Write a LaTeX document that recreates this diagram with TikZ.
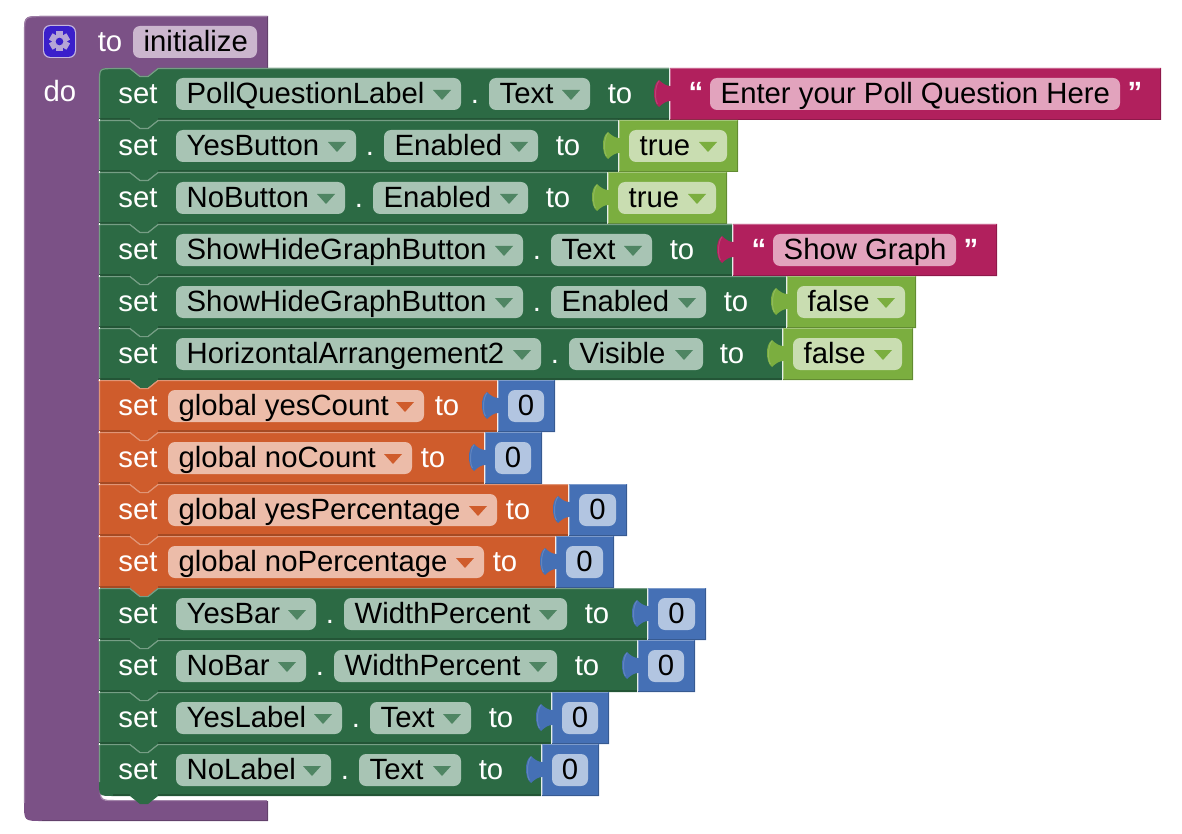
\documentclass[tikz,border=0pt]{standalone}
\usepackage{fontspec}
\setmainfont{Liberation Sans}
\usepackage{tikz}
\usetikzlibrary{calc}
\definecolor{procbg}{HTML}{7B5186}
\definecolor{procpill}{HTML}{CBB6CE}
\definecolor{gearbg}{HTML}{3A1FCB}
\definecolor{gearfg}{HTML}{B5A4D6}
\definecolor{compbg}{HTML}{2C6A44}
\definecolor{comppill}{HTML}{A8C4B4}
\definecolor{compmark}{HTML}{4F8563}
\definecolor{varbg}{HTML}{CF5C2C}
\definecolor{varpill}{HTML}{ECBCA9}
\definecolor{strbg}{HTML}{B1205D}
\definecolor{strpill}{HTML}{E2A3BD}
\definecolor{boolbg}{HTML}{7BAE3F}
\definecolor{boolpill}{HTML}{C9DDB1}
\definecolor{numbg}{HTML}{4570B5}
\definecolor{numpill}{HTML}{B2C5E1}
\tikzset{
  lab/.style={text=white, inner sep=0pt, font=\fontsize{29.3}{32}\selectfont, anchor=base},
  txt/.style={text=black, inner sep=0pt, font=\fontsize{29.3}{32}\selectfont, anchor=base west},
  quo/.style={lab, font=\fontsize{29.3}{32}\selectfont\bfseries},
}
\def\toprad{0}
\def\botrad{0}
% pill with text: id, x0, x1, y, text, pill colour
\newcommand{\pill}[6]{
  \fill[#6, rounded corners=7] (#2,#4+10) rectangle (#3,#4+42);
  \node[txt] (#1) at (#2+10.5,#4+35.5) {#5};
}
% dropdown mark: x1 of pill, y, colour
\newcommand{\dropmark}[3]{
  \fill[#3] (#1-28,#2+22) -- (#1-10,#2+22) -- (#1-19,#2+32) -- cycle;
}
% statement block with notch and tab: y, end, colour
\newcommand{\stackshape}[3]{
  \fill[#3] (99,#1+\toprad) .. controls (99,#1) .. (99+\toprad,#1) -- (130,#1) -- (140,#1+8) -- (148,#1+8) -- (158,#1)
    -- (#2,#1) -- (#2,#1+52) -- (158,#1+52) -- (148,#1+60) -- (140,#1+60) -- (130,#1+52)
    -- (99+\botrad,#1+52) .. controls (99,#1+52) .. (99,#1+52-\botrad) -- cycle;
  \draw[#3!65!white, line width=1.2] (99.5,#1+52-\botrad) -- (99.5,#1+\toprad) .. controls (99.5,#1+.6) .. (99+\toprad,#1+.6)
    -- (130,#1+.6) -- (140,#1+8.6) -- (148,#1+8.6) -- (158,#1+.6) -- (#2,#1+.6);
  \ifnum\toprad=0 \fill[white] (99,#1-.6) rectangle (100.4,#1+.8); \fi
  \draw[#3!80!black, line width=2] (99+\botrad,#1+51) -- (130,#1+51) (158,#1+51) -- (#2,#1+51);
}
% component row: id, y, name, x1, property, x1 of property, x of to, end
\newcommand{\comprow}[8]{
  \stackshape{#2}{#8}{compbg}
  \node[lab] (set#1) at (138,#2+35.5) {set};
  \pill{name#1}{176}{#4}{#2}{#3}{comppill}
  \dropmark{#4}{#2}{compmark}
  \node[lab] (dot#1) at (#4+14,#2+35.5) {.};
  \pill{prop#1}{#4+28}{#6}{#2}{#5}{comppill}
  \dropmark{#6}{#2}{compmark}
  \node[lab] (to#1) at (#7,#2+35.5) {to};
}
% variable row: id, y, name, x1, x of to, end
\newcommand{\varrow}[6]{
  \stackshape{#2}{#6}{varbg}
  \node[lab] (set#1) at (138,#2+35.5) {set};
  \pill{name#1}{168}{#4}{#2}{#3}{varpill}
  \dropmark{#4}{#2}{varbg}
  \node[lab] (to#1) at (#5,#2+35.5) {to};
}
% value block with puzzle tab: x0, x1, y, colour
\newcommand{\valshape}[4]{
  \fill[#4] (#1,#3) -- (#2,#3) -- (#2,#3+52) -- (#1,#3+52) -- (#1,#3+33)
    .. controls (#1-4,#3+33) and (#1-8,#3+36) .. (#1-11,#3+39)
    .. controls (#1-15,#3+36) and (#1-16,#3+30) .. (#1-16,#3+25)
    .. controls (#1-16,#3+20) and (#1-15,#3+15) .. (#1-11,#3+12)
    .. controls (#1-8,#3+15) and (#1-4,#3+18) .. (#1,#3+18) -- cycle;
  \draw[#4!70!white, line width=1] (#1,#3+52) -- (#1,#3+33) (#1,#3+18) -- (#1,#3+.5) -- (#2-1,#3+.5);
  \draw[#4!85!white, line width=1] (#1-12.5,#3+36) .. controls (#1-15.4,#3+32) and (#1-15.4,#3+18) .. (#1-11,#3+12.8);
  \draw[#4!80!black, line width=1.4] (#2-.7,#3+1) -- (#2-.7,#3+51.3) -- (#1,#3+51.3);
}
% number block: id, x0, x1, y
\newcommand{\numblock}[4]{
  \valshape{#2}{#3}{#4}{numbg}
  \fill[numpill, rounded corners=7] (#2+10,#4+10) rectangle (#3-11,#4+42);
  \node[txt, anchor=base] (num#1) at ({(#2+10+#3-11)/2},#4+35.5) {0};
}
% logic block: id, x0, x1, y, text
\newcommand{\boolblock}[5]{
  \valshape{#2}{#3}{#4}{boolbg}
  \pill{val#1}{#2+10}{#3-11}{#4}{#5}{boolpill}
  \dropmark{#3-11}{#4}{boolbg}
}
% text block: id, x0, x1, y, text
\newcommand{\strblock}[5]{
  \valshape{#2}{#3}{#4}{strbg}
  \node[quo] (open#1) at (#2+26,#4+35) {“};
  \pill{val#1}{#2+40}{#3-41}{#4}{#5}{strpill}
  \node[quo] (close#1) at (#3-26,#4+35) {”};
}
\begin{document}
\begin{tikzpicture}[x=1pt,y=-1pt]
  \useasboundingbox (0,0) rectangle (1182,834);
  % procedure frame
  \fill[procbg] (24,34) .. controls (24,16) .. (42,16) -- (268,16) -- (268,68) -- (170,68) -- (170,80) -- (100,80) -- (100,784)
    .. controls (100,801) .. (117,801) -- (268,801) -- (268,821) -- (42,821) .. controls (24,821) .. (24,803) -- cycle;
  \draw[procbg!75!white, line width=1.2] (24.5,803) -- (24.5,34) .. controls (24.5,16.6) .. (42,16.6) -- (267,16.6);
  \draw[procbg!70!white, line width=1.2] (100,784) .. controls (100,800.6) .. (117,800.6) -- (267,800.6);
  \draw[procbg!80!black, line width=1.2] (267.5,17) -- (267.5,68) (267.5,801) -- (267.5,820.4) -- (42,820.4);
  % gear icon
  \fill[gearfg!80!white, rounded corners=7] (43,25) rectangle (76,58);
  \fill[gearbg, rounded corners=6] (44.2,26.2) rectangle (74.8,56.8);
  \foreach \a in {0,60,...,300}
    \fill[gearfg, rotate around={\a:(59.5,41.5)}] (56,31.5) rectangle (63,51.5);
  \fill[gearfg] (59.5,41.5) circle (7.6);
  \fill[gearbg] (59.5,41.5) circle (3.8);
  \node[lab] (tolabel) at (110,51.5) {to};
  \pill{procname}{133}{257}{16}{initialize}{procpill}
  \node[lab] (dolabel) at (60,101.5) {do};
  % statements
  \def\toprad{14}
  \comprow{1}{68}{PollQuestionLabel}{461}{Text}{590}{620}{669}
  \def\toprad{0}
  \strblock{1}{670}{1161}{68}{Enter your Poll Question Here}
  \comprow{2}{120}{YesButton}{356}{Enabled}{538}{568}{618}
  \boolblock{2}{619}{738}{120}{true}
  \comprow{3}{172}{NoButton}{345}{Enabled}{528}{558}{607}
  \boolblock{3}{608}{727}{172}{true}
  \comprow{4}{224}{ShowHideGraphButton}{523}{Text}{652}{682}{732}
  \strblock{4}{733}{997}{224}{Show Graph}
  \comprow{5}{276}{ShowHideGraphButton}{523}{Enabled}{706}{736}{786}
  \boolblock{5}{787}{916}{276}{false}
  \comprow{6}{328}{HorizontalArrangement2}{541}{Visible}{703}{732}{782}
  \boolblock{6}{783}{913}{328}{false}
  \varrow{7}{380}{global yesCount}{424}{447}{497}
  \numblock{7}{498}{555}{380}
  \varrow{8}{432}{global noCount}{412}{433}{484}
  \numblock{8}{485}{542}{432}
  \varrow{9}{484}{global yesPercentage}{497}{518}{568}
  \numblock{9}{569}{627}{484}
  \varrow{10}{536}{global noPercentage}{484}{505}{555}
  \numblock{10}{556}{614}{536}
  \comprow{11}{588}{YesBar}{316}{WidthPercent}{567}{597}{647}
  \numblock{11}{648}{706}{588}
  \comprow{12}{640}{NoBar}{306}{WidthPercent}{557}{587}{637}
  \numblock{12}{638}{695}{640}
  \comprow{13}{692}{YesLabel}{342}{Text}{471}{501}{551}
  \numblock{13}{552}{609}{692}
  \def\botrad{14}
  \comprow{14}{744}{NoLabel}{331}{Text}{461}{491}{541}
  \numblock{14}{542}{599}{744}
\end{tikzpicture}
\end{document}
